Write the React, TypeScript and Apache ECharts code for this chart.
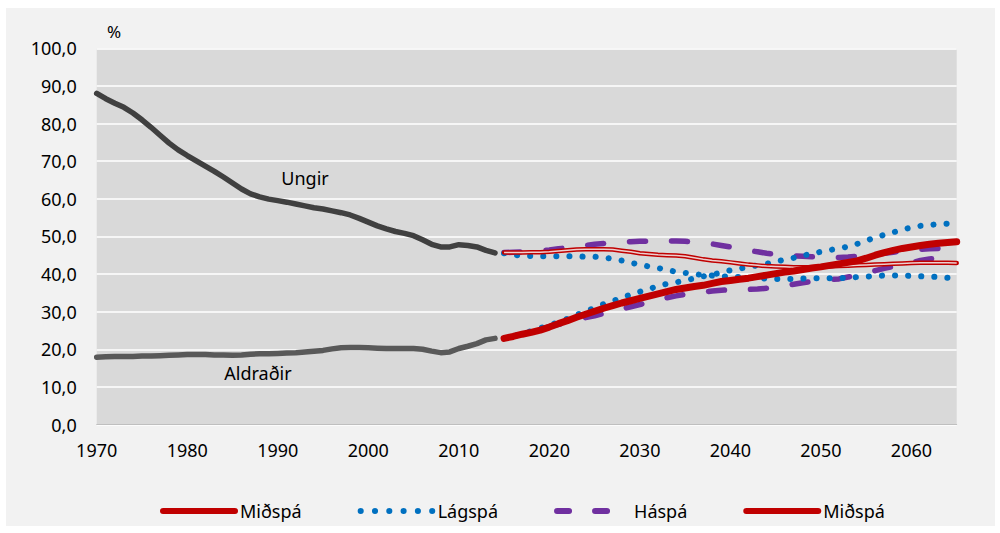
import React, { useEffect, useRef } from "react";
import * as echarts from "echarts";

// ---- data ----
const histStart = 1970;
const ungirHist = [
  88.0, 86.6, 85.4, 84.3, 82.8, 81.0, 79.0, 76.9, 74.8, 73.0,
  71.5, 70.1, 68.7, 67.3, 65.8, 64.2, 62.6, 61.3, 60.5, 59.9,
  59.5, 59.1, 58.6, 58.1, 57.6, 57.3, 56.8, 56.3, 55.7, 54.8,
  53.8, 52.8, 52.0, 51.3, 50.8, 50.2, 49.1, 47.9, 47.2, 47.2,
  47.8, 47.6, 47.2, 46.3, 45.6,
];
const aldradirHist = [
  17.9, 18.0, 18.1, 18.1, 18.1, 18.2, 18.2, 18.3, 18.4, 18.5,
  18.6, 18.6, 18.6, 18.5, 18.5, 18.4, 18.5, 18.7, 18.8, 18.8,
  18.9, 19.0, 19.1, 19.3, 19.5, 19.7, 20.1, 20.4, 20.5, 20.5,
  20.4, 20.3, 20.2, 20.2, 20.2, 20.2, 20.0, 19.5, 19.1, 19.3,
  20.2, 20.8, 21.5, 22.5, 22.9,
];

const projStart = 2015;
const ungirMid = [
  45.7, 45.7, 45.7, 45.8, 45.8, 45.9, 46.1, 46.3, 46.5, 46.6,
  46.6, 46.6, 46.5, 46.2, 45.9, 45.5, 45.3, 45.1, 45.0, 44.9,
  44.7, 44.3, 43.9, 43.6, 43.4, 43.1, 42.8, 42.5, 42.3, 42.1,
  42.0, 41.9, 41.8, 41.8, 41.8, 41.9, 42.0, 42.1, 42.2, 42.3,
  42.4, 42.5, 42.6, 42.7, 42.8, 42.9, 43.0, 43.0, 43.0, 43.0, 42.9,
];
const aldradirMid = [
  22.9, 23.4, 24.0, 24.5, 25.1, 25.9, 26.8, 27.6, 28.5, 29.3,
  30.1, 30.9, 31.6, 32.3, 32.9, 33.5, 34.1, 34.7, 35.3, 35.9,
  36.3, 36.7, 37.0, 37.5, 38.0, 38.3, 38.6, 38.9, 39.3, 39.7,
  40.1, 40.5, 40.8, 41.2, 41.6, 41.9, 42.3, 42.7, 43.1, 43.5,
  44.2, 45.0, 45.7, 46.3, 46.8, 47.2, 47.6, 47.9, 48.2, 48.4, 48.6,
];
const ungirLow = [
  45.5, 45.1, 44.9, 44.8, 44.7, 44.7, 44.7, 44.7, 44.7, 44.6,
  44.6, 44.4, 44.0, 43.6, 43.0, 42.5, 42.0, 41.6, 41.1, 40.6,
  40.3, 40.0, 39.7, 39.6, 39.4, 39.3, 39.2, 39.0, 38.9, 38.8,
  38.7, 38.7, 38.7, 38.8, 38.9, 38.9, 38.9, 38.9, 39.0, 39.2,
  39.3, 39.5, 39.6, 39.6, 39.6, 39.5, 39.4, 39.3, 39.2, 39.0, 38.9,
];
const aldradirLow = [
  22.9, 23.5, 24.2, 24.8, 25.6, 26.4, 27.2, 28.1, 29.1, 30.1,
  31.0, 32.0, 32.8, 33.7, 34.5, 35.3, 36.0, 36.8, 37.4, 37.8,
  38.3, 38.8, 39.4, 39.8, 40.4, 41.0, 41.4, 41.9, 42.3, 42.7,
  43.3, 43.8, 44.3, 44.9, 45.4, 45.9, 46.4, 46.8, 47.3, 48.0,
  48.9, 49.7, 50.4, 51.1, 51.8, 52.4, 52.8, 53.0, 53.3, 53.4, 53.5,
];
const ungirHigh = [
  45.7, 45.8, 45.9, 46.0, 46.2, 46.4, 46.7, 47.0, 47.3, 47.6,
  47.9, 48.1, 48.3, 48.5, 48.6, 48.7, 48.7, 48.8, 48.8, 48.8,
  48.7, 48.5, 48.3, 48.0, 47.6, 47.2, 46.8, 46.3, 45.9, 45.5,
  45.2, 45.0, 44.8, 44.7, 44.6, 44.5, 44.4, 44.4, 44.5, 44.7,
  44.9, 45.2, 45.5, 45.8, 46.1, 46.4, 46.6, 46.7, 46.8, 46.9, 47.0,
];
const aldradirHigh = [
  22.9, 23.4, 24.0, 24.6, 25.3, 26.0, 26.6, 27.2, 27.8, 28.4,
  28.9, 29.5, 30.1, 30.7, 31.3, 31.9, 32.5, 33.1, 33.7, 34.2,
  34.6, 34.9, 35.2, 35.5, 35.7, 35.8, 35.9, 35.9, 36.0, 36.2,
  36.5, 36.9, 37.3, 37.7, 38.0, 38.3, 38.5, 38.7, 39.2, 39.7,
  40.3, 40.9, 41.5, 42.0, 42.5, 43.0, 43.6, 44.0, 44.3, 44.6, 44.8,
];

const legendNames = ["Miðspá", "Lágspá", "Háspá", "Miðspá "];
const seriesLabels = ["Ungir", "Aldraðir"];
const yAxisUnit = "%";

const pairs = (start: number, arr: number[]) => arr.map((v, i) => [start + i, v]);

const FONT = "'Noto Sans', 'Open Sans', sans-serif";

export default function App() {
  const ref = useRef<HTMLDivElement>(null);
  useEffect(() => {
    if (!ref.current) return;
    const chart = echarts.init(ref.current, undefined, { renderer: "svg" });
    const purple = "#7030a0";
    const blue = "#0070c0";
    const red = "#c00000";
    const dashStyle = { color: purple, width: 5.5, type: [16, 26] as any, cap: "round" as const };
    const dotStyle = { color: blue, width: 6, type: [0.1, 13] as any, cap: "round" as const };
    const base = { type: "line" as const, symbol: "none", silent: true };
    const hidden = { opacity: 0, borderWidth: 0 };
    chart.setOption({
      animation: false,
      backgroundColor: "#ffffff",
      textStyle: { fontFamily: FONT },
      graphic: [
        {
          type: "rect",
          z: -100,
          silent: true,
          shape: { x: 6, y: 8, width: 989, height: 518 },
          style: { fill: "#f2f2f2" },
        },
        {
          type: "text",
          left: 107,
          top: 23,
          style: { text: yAxisUnit, font: `17px ${FONT}`, fill: "#000" },
        },
        {
          type: "text",
          x: 305,
          y: 178,
          style: { text: seriesLabels[0], font: `18px ${FONT}`, fill: "#000", align: "center", verticalAlign: "middle" },
        },
        {
          type: "text",
          x: 258,
          y: 373,
          style: { text: seriesLabels[1], font: `18px ${FONT}`, fill: "#000", align: "center", verticalAlign: "middle" },
        },
      ],
      grid: {
        left: 96.7,
        right: 43.3,
        top: 48.3,
        bottom: 108.5,
        show: true,
        backgroundColor: "#d9d9d9",
        borderWidth: 0,
      },
      legend: {
        left: 155,
        top: 497,
        itemWidth: 72,
        itemHeight: 14,
        itemGap: 56,
        textStyle: { fontSize: 18, color: "#000", fontFamily: FONT },
        formatter: (n: string) => n.trim(),
        itemStyle: hidden,
        data: [
          { name: legendNames[0], itemStyle: hidden, lineStyle: { width: 6, color: red, cap: "round" } },
          { name: legendNames[1], itemStyle: hidden, lineStyle: { width: 6, color: blue, type: [0.1, 14.2], cap: "round" } },
          { name: legendNames[2], itemStyle: hidden, lineStyle: { width: 6, color: purple, type: [12, 26], cap: "round" } },
          { name: legendNames[3], itemStyle: hidden, lineStyle: { width: 6, color: red, cap: "round" } },
        ],
      },
      xAxis: {
        type: "value",
        min: 1970,
        max: 2065,
        interval: 10,
        axisLine: { show: true, lineStyle: { color: "#bfbfbf", width: 1 } },
        axisTick: { show: false },
        splitLine: { show: false },
        axisLabel: {
          fontSize: 18,
          color: "#000",
          margin: 16,
          showMaxLabel: false,
          formatter: (v: number) => (v % 10 === 0 ? String(v) : ""),
        },
      },
      yAxis: {
        type: "value",
        min: 0,
        max: 100,
        interval: 10,
        axisLine: { show: false },
        axisTick: { show: false },
        splitLine: { show: true, lineStyle: { color: "#ffffff", width: 1.5 } },
        axisLabel: {
          fontSize: 18,
          color: "#000",
          margin: 20,
          formatter: (v: number) => v.toFixed(1).replace(".", ","),
        },
      },
      series: [
        {
          ...base,
          name: "Ungir saga",
          data: pairs(histStart, ungirHist),
          lineStyle: { color: "#404040", width: 5.5, cap: "round", join: "round" },
        },
        {
          ...base,
          name: "Aldraðir saga",
          data: pairs(histStart, aldradirHist),
          lineStyle: { color: "#595959", width: 5.5, cap: "round", join: "round" },
        },
        { ...base, name: legendNames[2], color: purple, data: pairs(projStart, ungirHigh), lineStyle: dashStyle },
        { ...base, name: legendNames[2], color: purple, data: pairs(projStart, aldradirHigh), lineStyle: dashStyle },
        { ...base, name: legendNames[1], color: blue, data: pairs(projStart, ungirLow), lineStyle: dotStyle },
        { ...base, name: legendNames[1], color: blue, data: pairs(projStart, aldradirLow), lineStyle: dotStyle },
        {
          ...base,
          name: legendNames[0],
          color: red,
          data: pairs(projStart, ungirMid),
          lineStyle: { color: red, width: 4.5, cap: "round", join: "round" },
        },
        {
          ...base,
          name: "_inner",
          data: pairs(projStart, ungirMid),
          lineStyle: { color: "#ecd0d0", width: 1.5, join: "round" },
        },
        {
          ...base,
          name: legendNames[3],
          color: red,
          data: pairs(projStart, aldradirMid),
          lineStyle: { color: red, width: 7, cap: "round", join: "round" },
        },
      ],
    });
    return () => chart.dispose();
  }, []);
  return (
    <div
      ref={ref}
      style={{ position: "fixed", left: 0, top: 0, width: 1000, height: 533 }}
    />
  );
}
